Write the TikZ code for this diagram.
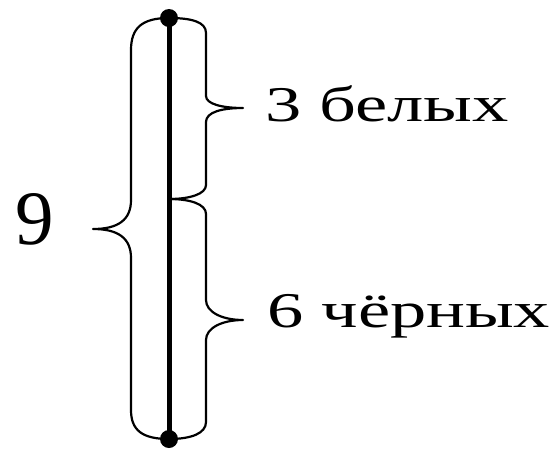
\documentclass[tikz,border=0pt]{standalone}
\usepackage{fontspec}
\setmainfont{Liberation Serif}
\usetikzlibrary{positioning}

\newcommand{\widetext}[1]{\scalebox{1.45}[1]{#1}}

\begin{document}
\begin{tikzpicture}[x=1pt,y=-1pt,
    brace/.style={line width=2.2pt, line cap=round, line join=round},
    lbl/.style={font=\fontsize{50}{50}\selectfont, inner sep=0pt, anchor=base west}]
    \useasboundingbox (0,0) rectangle (560,451);

    % Define points
    \coordinate (top) at (169,18);
    \coordinate (mid) at (169,199);
    \coordinate (bot) at (169,439);
    \coordinate (tipL) at (93,229);
    \coordinate (tipW) at (243,108);
    \coordinate (tipB) at (243,320);

    % Left brace (all balls)
    \draw[brace] (top) .. controls (142,18) and (131,28) .. (131,50) -- (131,200)
        .. controls (131,220) and (118,229) .. (tipL)
        .. controls (118,229) and (131,238) .. (131,258) -- (131,410)
        .. controls (131,430) and (142,439) .. (bot);

    % Right braces (white and black)
    \draw[brace] (top) .. controls (192,18) and (206,22) .. (206,33) -- (206,96)
        .. controls (206,104) and (222,108) .. (tipW)
        .. controls (222,108) and (206,112) .. (206,122) -- (206,185)
        .. controls (206,194) and (190,199) .. (mid);
    \draw[brace] (mid) .. controls (190,199) and (206,204) .. (206,214) -- (206,300)
        .. controls (206,312) and (222,320) .. (tipB)
        .. controls (222,320) and (206,328) .. (206,340) -- (206,422)
        .. controls (206,433) and (192,439) .. (bot);

    % Segment
    \draw[line width=5pt] (top) -- (bot);
    \fill (top) circle (9pt);
    \fill (bot) circle (9pt);

    % Labels
    \node[lbl, font=\fontsize{77}{77}\selectfont] (all) at (15,244) {9};
    \node[lbl] (white) at (265,121) {\widetext{3 белых}};
    \node[lbl] (black) at (267,327) {\widetext{6 чёрных}};
\end{tikzpicture}
\end{document}
